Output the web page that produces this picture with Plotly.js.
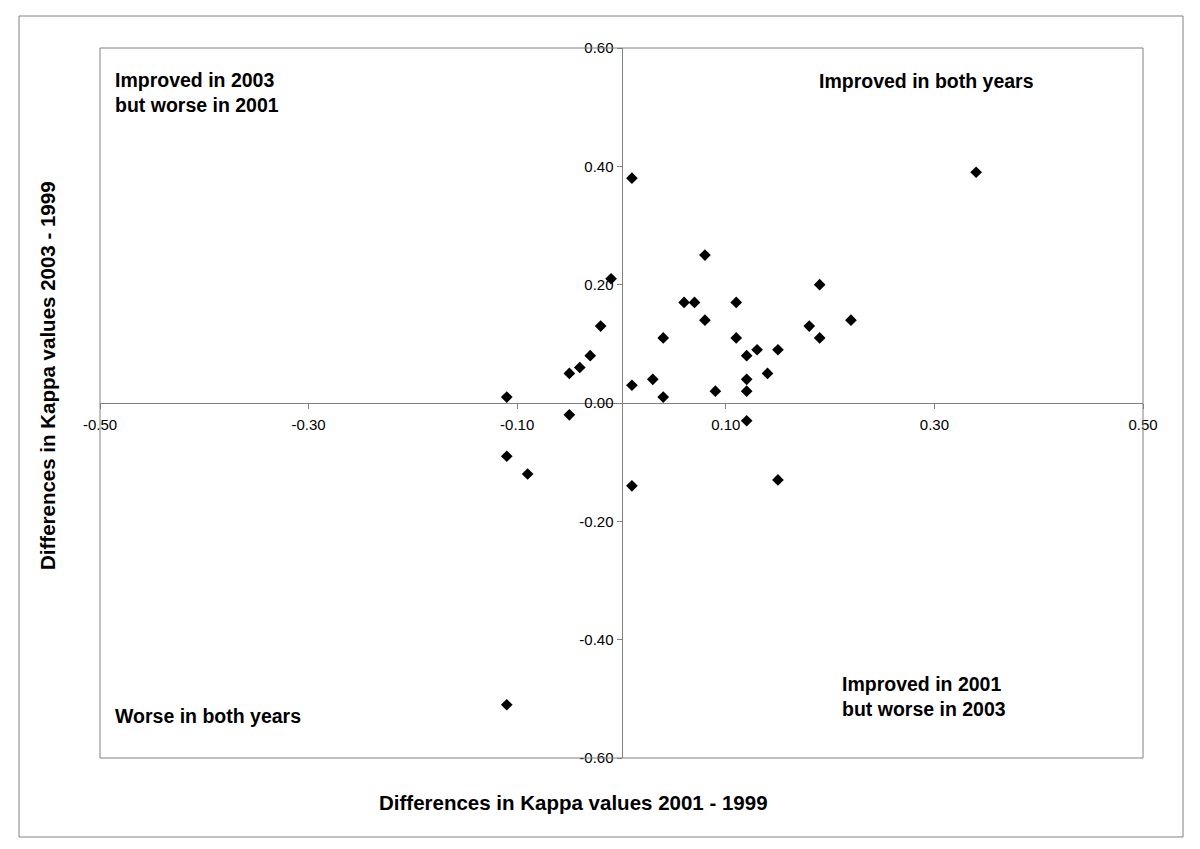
<!DOCTYPE html>
<html>
<head>
<meta charset="utf-8">
<script src="https://cdn.plot.ly/plotly-3.0.1.min.js"></script>
<style>body{margin:0;background:#fff;} #chart{width:1200px;height:849px;}</style>
</head>
<body>
<div id="chart"></div>
<script>
// Differences in Kappa values 2001 - 1999 (x) and 2003 - 1999 (y)
const diff2001 = [-0.11, -0.05, -0.05, -0.04, -0.03, -0.02, -0.01, 0.01, 0.01, 0.03, 0.04, 0.04,
  0.06, 0.07, 0.08, 0.08, 0.09, 0.11, 0.11, 0.12, 0.12, 0.12, 0.12, 0.13, 0.14, 0.15, 0.18,
  0.19, 0.19, 0.22, 0.34, 0.15, -0.11, -0.09, 0.01, -0.11];
const diff2003 = [0.01, 0.05, -0.02, 0.06, 0.08, 0.13, 0.21, 0.38, 0.03, 0.04, 0.11, 0.01,
  0.17, 0.17, 0.25, 0.14, 0.02, 0.17, 0.11, 0.08, 0.04, 0.02, -0.03, 0.09, 0.05, 0.09, 0.13,
  0.20, 0.11, 0.14, 0.39, -0.13, -0.09, -0.12, -0.14, -0.51];
const xTicks = [-0.5, -0.3, -0.1, 0.1, 0.3, 0.5];
const xTickText = ["-0.50", "-0.30", "-0.10", "0.10", "0.30", "0.50"];
const yTicks = [0.6, 0.4, 0.2, 0, -0.2, -0.4, -0.6];
const yTickText = ["0.60", "0.40", "0.20", "0.00", "-0.20", "-0.40", "-0.60"];
const xTitle = "Differences in Kappa values 2001 - 1999";
const yTitle = "Differences in Kappa values 2003 - 1999";
const quadrantLabels = [
  "Improved in 2003<br>but worse in 2001",
  "Improved in both years",
  "Improved in 2001<br>but worse in 2003",
  "Worse in both years"
];

const FONT = "Liberation Sans, Arial, sans-serif";
const L = 100, R = 57, T = 48, B = 91;
const PW = 1200 - L - R, PH = 849 - T - B;
const px = v => (v - L) / PW;          // pixel x -> paper
const py = v => (849 - B - v) / PH;    // pixel y -> paper

const trace = {
  x: diff2001, y: diff2003, type: 'scatter', mode: 'markers',
  marker: {symbol: 'diamond', size: 9, color: '#000'},
  hoverinfo: 'x+y', showlegend: false
};

const bold = {family: FONT, size: 19.5, color: '#000', weight: 'bold'};
const titleFont = {family: FONT, size: 20.5, color: '#000', weight: 'bold'};
const tickFont = {family: FONT, size: 15, color: '#000'};
const layout = {
  width: 1200, height: 849,
  margin: {l: L, r: R, t: T, b: B},
  paper_bgcolor: '#fff', plot_bgcolor: '#fff',
  showlegend: false,
  xaxis: {
    range: [-0.5, 0.5], anchor: 'free', position: 0.5,
    showgrid: false, zeroline: false,
    showline: true, linecolor: '#808080', linewidth: 1,
    ticks: 'outside', ticklen: 5, tickcolor: '#808080',
    tickvals: xTicks, ticktext: xTickText,
    tickfont: tickFont, ticklabelstandoff: 3,
    fixedrange: true
  },
  yaxis: {
    range: [-0.6, 0.6], anchor: 'free', position: 0.5,
    showgrid: false, zeroline: false,
    showline: true, linecolor: '#808080', linewidth: 1,
    ticks: 'outside', ticklen: 5, tickcolor: '#808080',
    tickvals: yTicks, ticktext: yTickText,
    tickfont: tickFont,
    fixedrange: true
  },
  shapes: [
    {type: 'rect', xref: 'paper', yref: 'paper', x0: 0, x1: 1, y0: 0, y1: 1,
     line: {color: '#808080', width: 1}},
    {type: 'rect', xref: 'paper', yref: 'paper', x0: px(19), x1: px(1183), y0: py(837), y1: py(16),
     line: {color: '#808080', width: 1}}
  ],
  annotations: [
    {text: xTitle, xref: 'paper', yref: 'paper', x: px(573), y: py(803), showarrow: false,
     font: titleFont, xanchor: 'center', yanchor: 'middle'},
    {text: yTitle, xref: 'paper', yref: 'paper', x: px(47), y: py(376), showarrow: false,
     font: titleFont, textangle: -90, xanchor: 'center', yanchor: 'middle'},
    {text: quadrantLabels[0], xref: 'paper', yref: 'paper', x: px(113), y: py(67), showarrow: false,
     font: bold, xanchor: 'left', yanchor: 'top', align: 'left'},
    {text: quadrantLabels[1], xref: 'paper', yref: 'paper', x: px(817), y: py(68), showarrow: false,
     font: bold, xanchor: 'left', yanchor: 'top', align: 'left'},
    {text: quadrantLabels[2], xref: 'paper', yref: 'paper', x: px(840), y: py(671), showarrow: false,
     font: bold, xanchor: 'left', yanchor: 'top', align: 'left'},
    {text: quadrantLabels[3], xref: 'paper', yref: 'paper', x: px(113), y: py(703), showarrow: false,
     font: bold, xanchor: 'left', yanchor: 'top', align: 'left'}
  ]
};

Plotly.newPlot('chart', [trace], layout, {displayModeBar: false, staticPlot: true});
</script>
</body>
</html>
